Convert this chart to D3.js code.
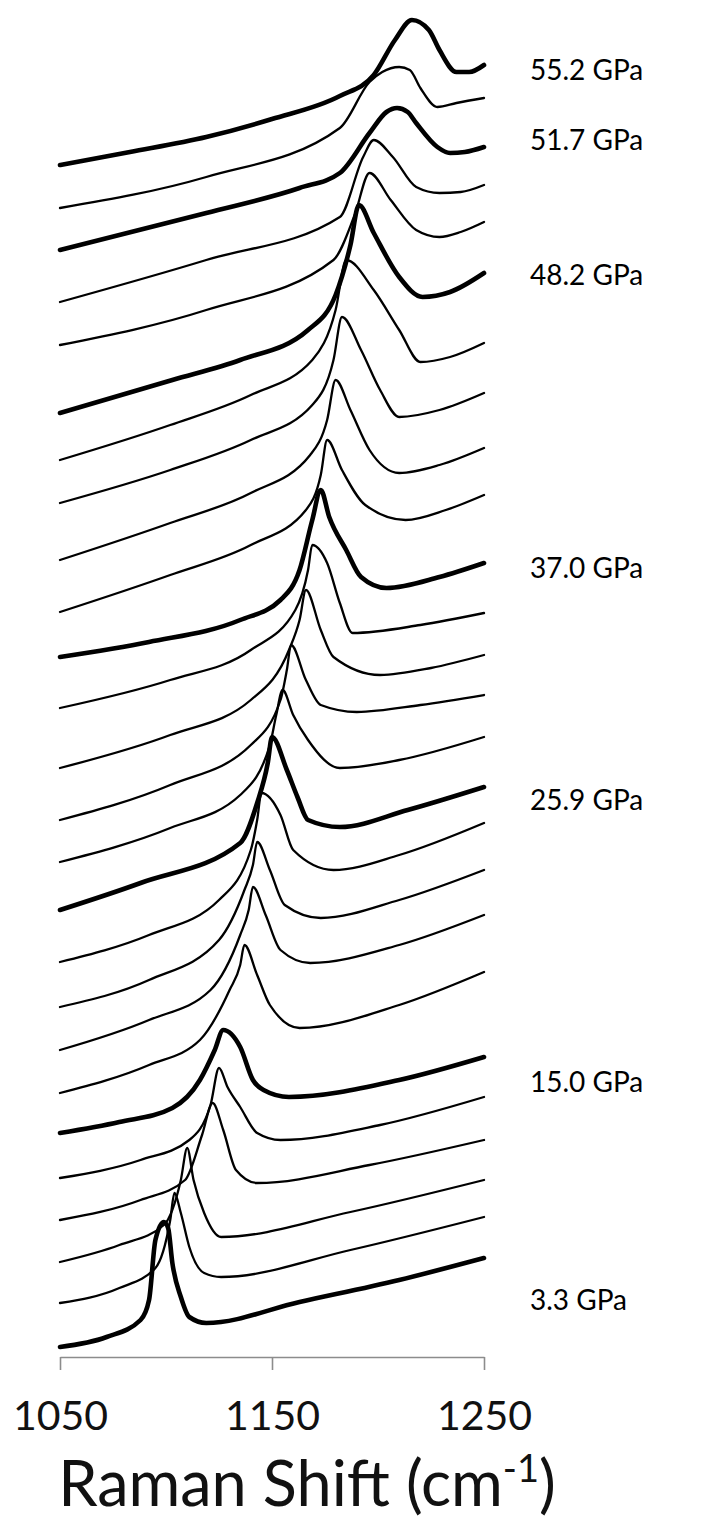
<!DOCTYPE html>
<html>
<head>
<meta charset="utf-8">
<script src="https://cdn.jsdelivr.net/npm/d3@7"></script>
<style>
  body { margin: 0; background: #fff; }
  text { font-family: Lato, "Open Sans", sans-serif; }
</style>
</head>
<body>
<script>
const w = 709;
const h = 1521;

// Raman shift (cm-1) and stacked intensity (a.u., offsets included), bottom trace first
const spectra = [
  [[1050,10],[1072,20],[1088,37],[1092,57],[1095,117],[1099,135],[1101,129],[1103,94],[1107,60],[1111,40],[1119,34],[1163,55],[1210,77],[1250,99]],
  [[1050,54],[1078,69],[1095,89],[1102,137],[1104,164],[1107,144],[1111,110],[1118,84],[1126,80],[1187,107],[1250,140]],
  [[1050,95],[1078,112],[1099,132],[1107,177],[1110,209],[1113,177],[1118,144],[1126,120],[1187,145],[1250,177]],
  [[1050,137],[1088,157],[1109,177],[1117,222],[1122,254],[1127,227],[1133,187],[1143,174],[1196,192],[1250,217]],
  [[1050,179],[1088,197],[1111,217],[1121,252],[1125,289],[1129,270],[1135,250],[1143,224],[1154,217],[1201,232],[1250,260]],
  [[1050,224],[1078,235],[1103,249],[1116,277],[1123,307],[1127,327],[1135,310],[1141,277],[1146,267],[1158,260],[1210,277],[1250,300]],
  [[1050,264],[1092,292],[1116,317],[1130,367],[1135,392],[1137,412],[1143,382],[1149,352],[1163,329],[1210,352],[1250,385]],
  [[1050,307],[1092,337],[1121,367],[1135,422],[1139,447],[1141,470],[1147,442],[1154,407],[1168,394],[1210,412],[1250,442]],
  [[1050,350],[1092,377],[1125,417],[1137,467],[1141,492],[1143,515],[1149,487],[1156,452],[1173,439],[1210,457],[1250,487]],
  [[1050,395],[1092,422],[1125,457],[1140,507],[1143,537],[1145,564],[1154,542],[1160,507],[1179,487],[1210,502],[1250,534]],
  [[1050,447],[1088,474],[1135,514],[1143,554],[1148,594],[1150,620],[1157,587],[1162,560],[1167,537],[1182,530],[1214,547],[1250,570]],
  [[1050,495],[1102,529],[1135,562],[1149,612],[1152,642],[1155,667],[1160,642],[1167,617],[1182,589],[1210,597],[1250,620]],
  [[1050,537],[1102,572],[1140,612],[1154,657],[1157,687],[1159,712],[1166,677],[1173,652],[1190,645],[1220,652],[1250,662]],
  [[1050,589],[1102,622],[1140,657],[1158,707],[1163,737],[1166,767],[1173,727],[1179,700],[1201,682],[1225,689],[1250,702]],
  [[1050,649],[1102,677],[1140,707],[1161,747],[1167,787],[1169,812],[1176,794],[1182,754],[1188,724],[1220,732],[1250,744]],
  [[1050,700],[1092,715],[1135,737],[1154,757],[1163,787],[1169,837],[1173,867],[1177,840],[1185,807],[1192,780],[1204,769],[1229,780],[1250,794]],
  [[1050,745],[1102,782],[1140,812],[1166,847],[1173,882],[1176,917],[1183,887],[1194,852],[1213,837],[1232,847],[1250,862]],
  [[1050,797],[1102,834],[1140,864],[1168,902],[1176,937],[1180,977],[1187,947],[1196,907],[1210,884],[1229,892],[1250,909]],
  [[1050,854],[1102,887],[1140,917],[1169,952],[1179,997],[1183,1040],[1192,1007],[1201,967],[1210,940],[1229,947],[1250,964]],
  [[1050,897],[1102,932],[1140,962],[1169,997],[1180,1047],[1185,1097],[1198,1067],[1210,1027],[1220,995],[1234,1000],[1250,1014]],
  [[1050,944],[1103,977],[1135,997],[1167,1027],[1180,1062],[1187,1112],[1191,1152],[1198,1124],[1210,1080],[1221,1060],[1234,1065],[1250,1084]],
  [[1050,1012],[1119,1047],[1179,1097],[1189,1142],[1196,1184],[1206,1157],[1218,1127],[1229,1120],[1239,1125],[1250,1135]],
  [[1050,1055],[1119,1097],[1182,1140],[1193,1200],[1198,1217],[1207,1200],[1218,1170],[1229,1164],[1239,1165],[1250,1172]],
  [[1050,1107],[1119,1144],[1163,1169],[1182,1184],[1196,1224],[1204,1245],[1209,1249],[1214,1245],[1218,1234],[1228,1210],[1234,1204],[1241,1205],[1250,1210]],
  [[1050,1149],[1119,1180],[1182,1229],[1196,1275],[1202,1285],[1210,1290],[1215,1287],[1220,1269],[1228,1250],[1237,1254],[1250,1259]],
  [[1050,1192],[1083,1205],[1119,1220],[1150,1238],[1182,1261],[1198,1282],[1208,1317],[1216,1337],[1224,1327],[1229,1307],[1237,1285],[1243,1285],[1250,1292]]
];

// labelled (bold) spectra
const labelText  = ["3.3 GPa", "15.0 GPa", "25.9 GPa", "37.0 GPa", "48.2 GPa", "51.7 GPa", "55.2 GPa"];
const labelTrace = [0, 5, 10, 15, 20, 23, 25];
const labelLevel = [57, 275, 557, 789, 1082, 1217, 1287];

const xTicks = [1050, 1150, 1250];

const svg = d3.select("body")
              .append("svg")
              .attr("width", w)
              .attr("height", h);

svg.append("rect")
   .attr("width", w)
   .attr("height", h)
   .attr("fill", "#fff");

const x = d3.scaleLinear().domain([1050, 1250]).range([60, 484]);
const y = d3.scaleLinear().domain([0, 1357]).range([1357, 0]);

const line = d3.line()
  .x(d => x(d[0]))
  .y(d => y(d[1]))
  .curve(d3.curveMonotoneX);

svg.append("g")
   .attr("class", "spectra")
   .selectAll("path")
   .data(spectra)
   .enter()
   .append("path")
   .attr("fill", "none")
   .attr("stroke", "#000")
   .attr("stroke-linejoin", "round")
   .attr("stroke-linecap", "round")
   .attr("stroke-width", (d, i) => labelTrace.includes(i) ? 4.6 : 2.3)
   .attr("d", line);

// x axis
const axis = svg.append("g")
   .attr("transform", "translate(0," + y(0) + ")")
   .call(d3.axisBottom(x)
           .tickValues(xTicks)
           .tickSize(13)
           .tickSizeOuter(0)
           .tickFormat(d3.format("d")));

axis.select(".domain").attr("stroke", "#8c8c8c").attr("stroke-width", 1.6);
axis.selectAll(".tick line").attr("stroke", "#8c8c8c").attr("stroke-width", 1.6);
axis.selectAll(".tick text")
    .attr("y", 44)
    .attr("fill", "#111")
    .style("font-family", "Lato, sans-serif")
    .style("font-size", "41px");

// axis title
const title = svg.append("text")
   .attr("x", 307)
   .attr("y", 1506)
   .attr("text-anchor", "middle")
   .attr("fill", "#111")
   .style("font-size", "63px")
   .text("Raman Shift (cm");
title.append("tspan")
   .attr("dy", -24)
   .style("font-size", "38px")
   .text("-1");
title.append("tspan")
   .attr("dy", 24)
   .text(")");

// pressure labels
svg.append("g")
   .selectAll("text")
   .data(labelText)
   .enter()
   .append("text")
   .attr("x", 530)
   .attr("y", (d, i) => y(labelLevel[i]))
   .attr("dy", "0.35em")
   .attr("fill", "#000")
   .style("font-size", "28px")
   .text(d => d);
</script>
</body>
</html>
